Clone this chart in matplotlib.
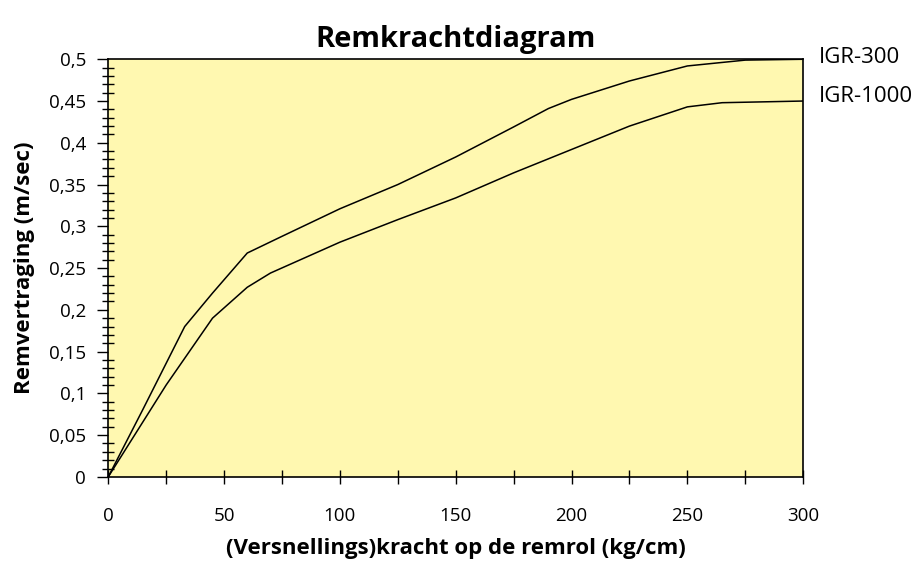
import matplotlib
matplotlib.use("Agg")
import matplotlib.pyplot as plt
from matplotlib.ticker import MultipleLocator, FuncFormatter
from matplotlib.transforms import offset_copy

plt.rcParams['font.family'] = ['Open Sans', 'DejaVu Sans']

# data
x_300 = [0, 15, 33, 45, 60, 75, 100, 125, 150, 175, 190, 200, 225, 250, 275, 300]
y_300 = [0, 0.081, 0.18, 0.22, 0.268, 0.288, 0.321, 0.350, 0.383, 0.419, 0.441, 0.452, 0.474, 0.492, 0.499, 0.5]

x_1000 = [0, 25, 45, 60, 70, 100, 125, 150, 175, 200, 225, 250, 265, 300]
y_1000 = [0, 0.11, 0.19, 0.227, 0.244, 0.281, 0.308, 0.334, 0.364, 0.392, 0.42, 0.443, 0.448, 0.45]

labels = ["IGR-300", "IGR-1000"]

fig = plt.figure(figsize=(9.19, 5.65), dpi=100)
ax = fig.add_axes([0.1178, 0.156, 0.7562, 0.7391])
ax.set_facecolor('#FFF8B0')

ax.plot(x_300, y_300, color='black', lw=1.1)
ax.plot(x_1000, y_1000, color='black', lw=1.1)

ax.set_xlim(0, 300)
ax.set_ylim(0, 0.5)

ax.xaxis.set_major_locator(MultipleLocator(50))
ax.xaxis.set_minor_locator(MultipleLocator(25))
ax.yaxis.set_major_locator(MultipleLocator(0.05))
ax.yaxis.set_minor_locator(MultipleLocator(0.01))

comma = FuncFormatter(lambda v, p: ('%g' % round(v, 3)).replace('.', ','))
ax.yaxis.set_major_formatter(comma)

ax.tick_params(axis='x', which='both', direction='inout', length=10, width=1, labelsize=13.5, pad=17)
ax.tick_params(axis='y', which='major', direction='out', length=8, width=1, labelsize=13.5, pad=8)
ax.tick_params(axis='y', which='minor', direction='inout', length=9, width=1)
ax.tick_params(top=False, right=False)

for s in ax.spines.values():
    s.set_linewidth(1.2)

ax.set_title("Remkrachtdiagram", fontsize=21, fontweight='bold', pad=9)
ax.set_xlabel("(Versnellings)kracht op de remrol (kg/cm)", fontsize=16, fontweight='bold', labelpad=9)
ax.set_ylabel("Remvertraging (m/sec)", fontsize=16, fontweight='bold', labelpad=10)

# series names at the right end of each curve
tr = ax.get_yaxis_transform()
ax.text(1.023, y_300[-1], labels[0], transform=offset_copy(tr, fig=fig, y=1, units='points'),
        fontsize=16, va='center', ha='left')
ax.text(1.023, y_1000[-1], labels[1], transform=offset_copy(tr, fig=fig, y=3, units='points'),
        fontsize=16, va='center', ha='left')

fig.savefig("out.png", dpi=100)
